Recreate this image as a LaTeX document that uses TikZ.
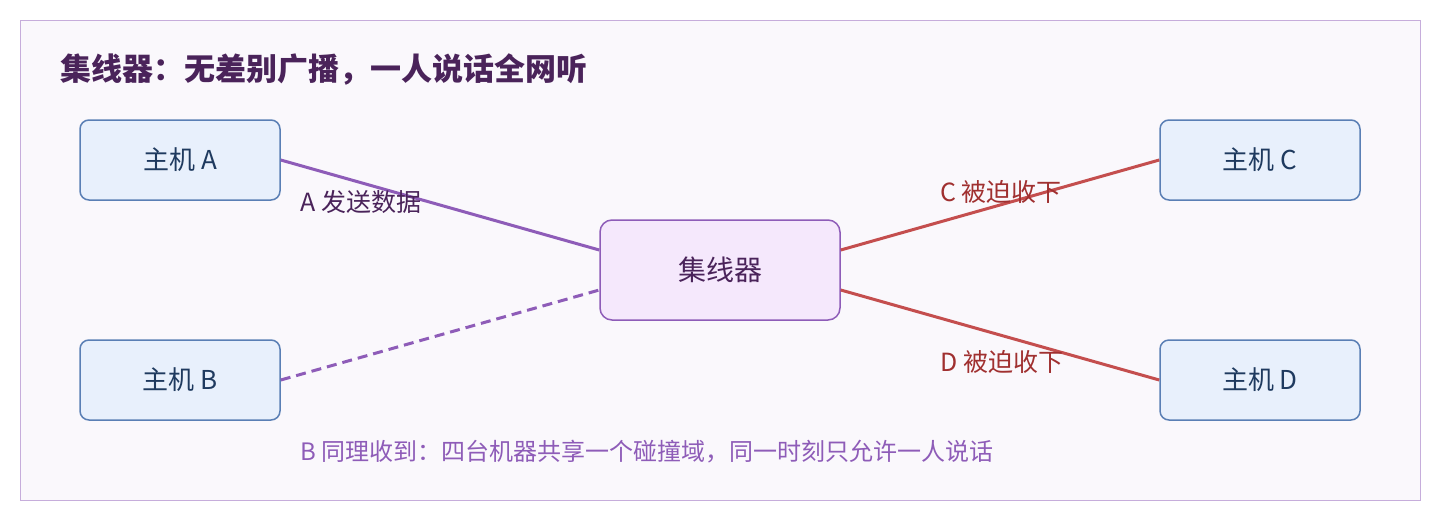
\documentclass[tikz,border=0pt]{standalone}
\usepackage{fontspec}
\setmainfont{Noto Sans CJK SC}
\begin{document}
\begin{tikzpicture}[x=1pt,y=-1pt,
 host/.style={draw=hostline,fill=hostfill,line width=1.5,rounded corners=9,minimum width=200,minimum height=80,font=\fontsize{26}{30}\selectfont,text=hosttext},
 lab/.style={font=\fontsize{25}{29}\selectfont,anchor=west,inner sep=0}]
\definecolor{hostline}{HTML}{5A7FB5}\definecolor{hostfill}{HTML}{E8F0FC}\definecolor{hosttext}{HTML}{1F3A5F}
\definecolor{purp}{HTML}{8E5CB8}\definecolor{dpurp}{HTML}{4A235A}\definecolor{redl}{HTML}{C44E4E}\definecolor{redt}{HTML}{A03030}
\definecolor{hubfill}{HTML}{F5E8FC}
\useasboundingbox (0,0) rectangle (1440,520);
\node[draw=purp!50,fill=purp!4,line width=1.2,minimum width=1400,minimum height=480,anchor=north west] (bg) at (20,20) {};
\node[anchor=west,inner sep=0,font=\fontsize{31}{35}\selectfont\bfseries,text=dpurp] (t) at (60,70) {集线器：无差别广播，一人说话全网听};
\node[host] (A) at (180,160) {主机 A\hspace{30pt}};
\node[host] (B) at (180,380) {主机 B\hspace{30pt}};
\node[host] (C) at (1260,160) {主机 C\hspace{30pt}};
\node[host] (D) at (1260,380) {主机 D\hspace{30pt}};
\node[draw=purp,fill=hubfill,line width=1.5,rounded corners=12,minimum width=240,minimum height=100,font=\fontsize{28}{32}\selectfont,text=dpurp] (H) at (720,270) {集线器};
\draw[purp,line width=3] (A.east) -- ([yshift=20]H.west);
\draw[purp,line width=3,dash pattern=on 10 off 6] (B.east) -- ([yshift=-20]H.west);
\draw[redl,line width=3] ([yshift=20]H.east) -- (C.west);
\draw[redl,line width=3] ([yshift=-20]H.east) -- (D.west);
\node[lab,text=dpurp] (la) at (300,202) {A 发送数据};
\node[lab,text=redt] (lc) at (940,192) {C 被迫收下};
\node[lab,text=redt] (ld) at (940,362) {D 被迫收下};
\node[lab,text=purp,font=\fontsize{24}{28}\selectfont] (lb) at (300,452) {B 同理收到：四台机器共享一个碰撞域，同一时刻只允许一人说话};
\end{tikzpicture}
\end{document}
